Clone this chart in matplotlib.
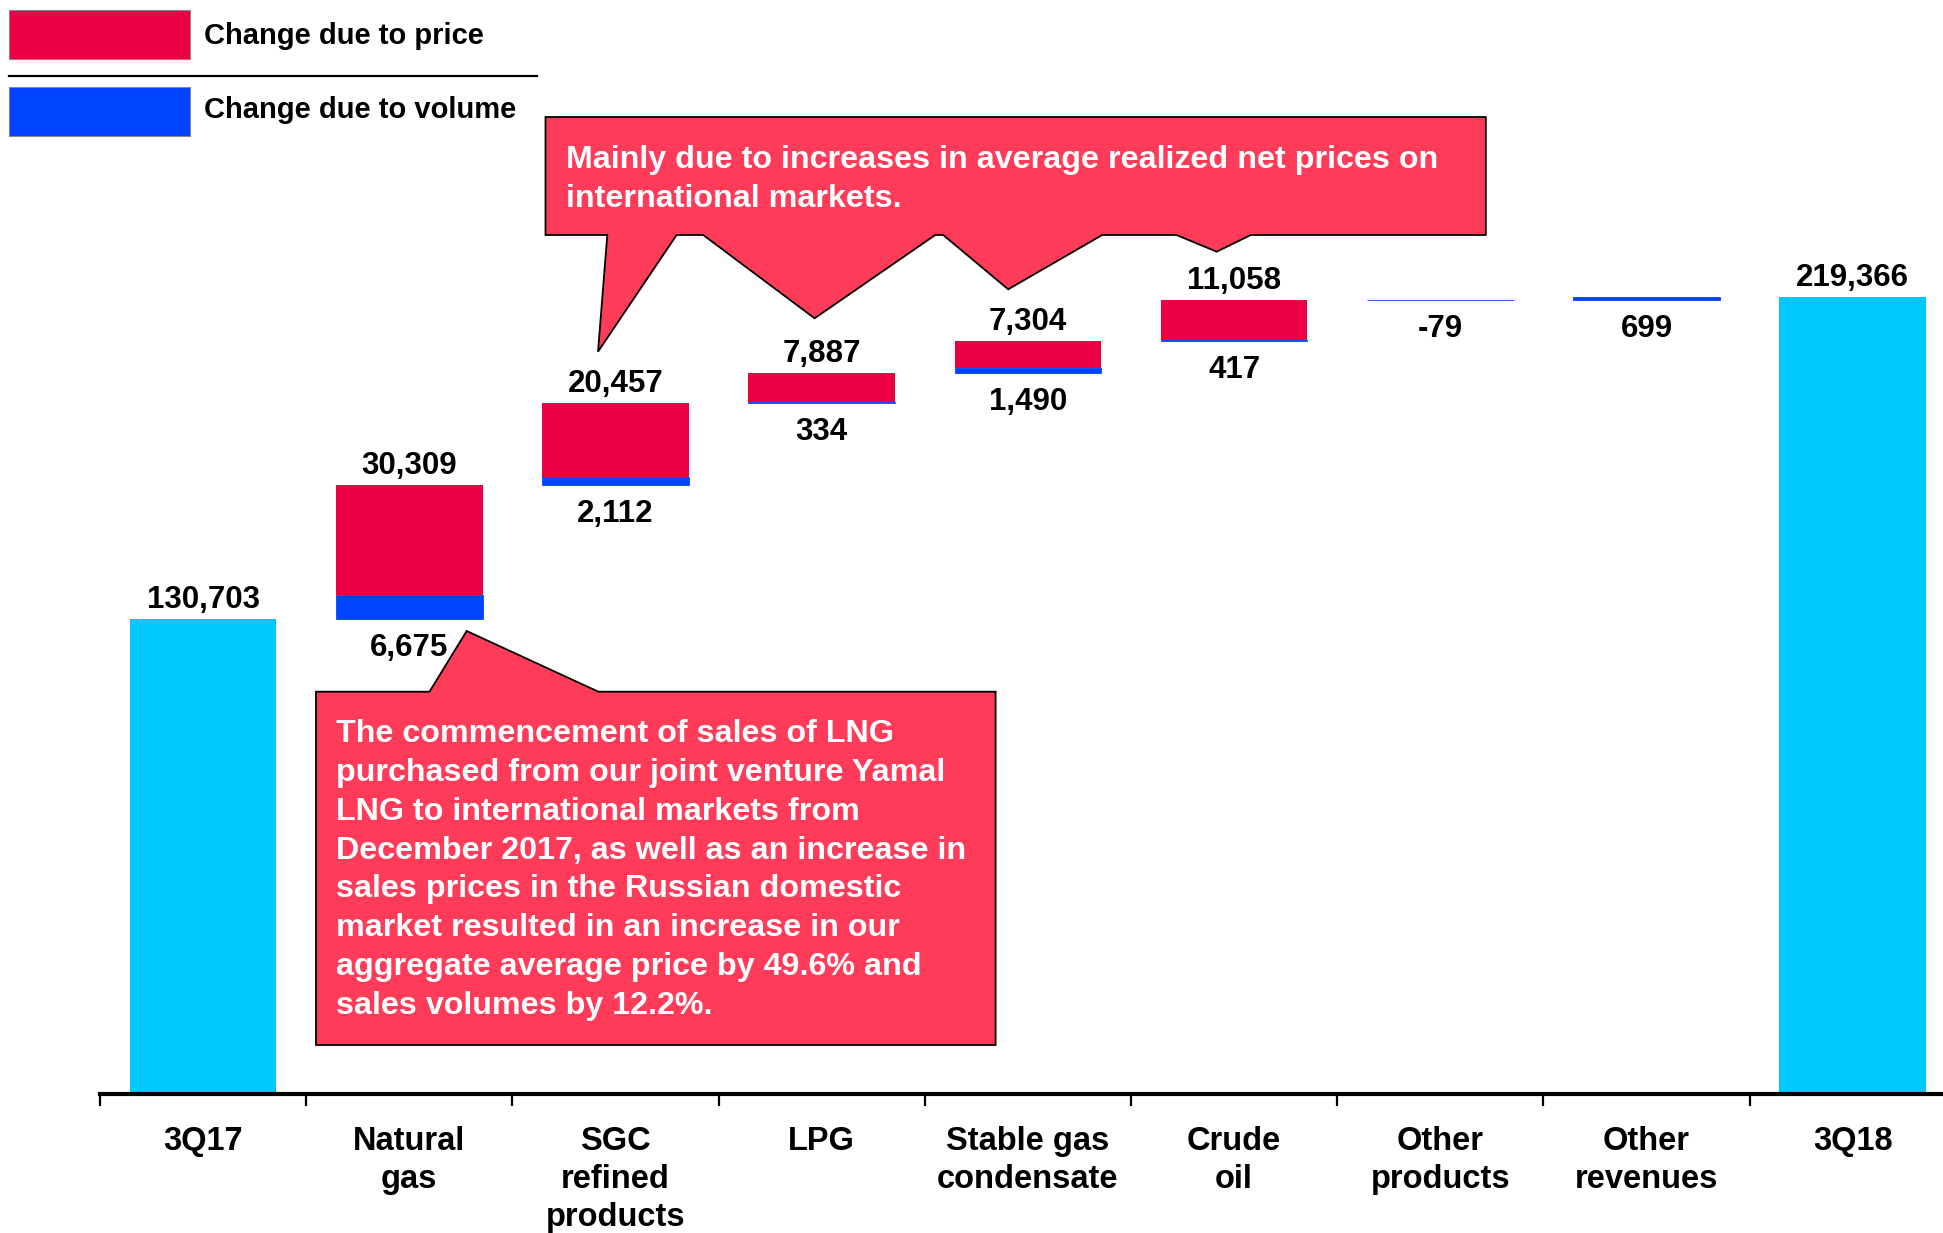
import numpy as np
import matplotlib
matplotlib.use('Agg')
import matplotlib.pyplot as plt
from matplotlib.patches import Rectangle, Polygon
from matplotlib.lines import Line2D

plt.rcParams['font.family'] = ['Liberation Sans', 'DejaVu Sans']
plt.rcParams['font.weight'] = 'bold'

# data
categories = ['3Q17', 'Natural\ngas', 'SGC\nrefined\nproducts', 'LPG',
              'Stable gas\ncondensate', 'Crude\noil', 'Other\nproducts',
              'Other\nrevenues', '3Q18']
start_total = 130703
end_total = 219366
volume_change = [6675, 2112, 334, 1490, 417, -79, 699]
price_change = [30309, 20457, 7887, 7304, 11058, 0, 0]

RED = '#EB0045'
BLUE = '#0044FF'
CYAN = '#00C8FF'
CALLOUT = '#FF3B5A'

W, H = 1943, 1233
fig = plt.figure(figsize=(W / 100, H / 100), dpi=100)

def fx(x):
    return x / W

def fy(y):
    return 1 - y / H

ax = fig.add_axes([fx(100), fy(1094), 1843 / W, 1094 / H])

bw = 0.71
val_font = dict(fontsize=22.5, fontweight='bold', ha='center', va='center')

def label_above(x, y, text):
    ax.annotate(text, (x, y), xytext=(0, 19), textcoords='offset pixels', **val_font)

def label_below(x, y, text):
    ax.annotate(text, (x, y), xytext=(0, -29), textcoords='offset pixels', **val_font)

# totals
ax.bar(0, start_total, width=bw, color=CYAN)
label_above(0, start_total, f'{start_total:,}')
ax.bar(8, end_total, width=bw, color=CYAN)
label_above(8, end_total, f'{end_total:,}')

running = start_total
for i, (vol, price) in enumerate(zip(volume_change, price_change), start=1):
    low = min(running, running + vol)
    ax.bar(i, abs(vol), bottom=low, width=bw, color=BLUE,
           edgecolor=BLUE, linewidth=0.6)
    running += vol
    if price:
        ax.bar(i, price, bottom=running, width=bw, color=RED)
        running += price
        label_above(i, running, f'{price:,}')
    label_below(i, low, f'{vol:,}')

# axis styling
for side in ['left', 'top', 'right']:
    ax.spines[side].set_visible(False)
ax.spines['bottom'].set_linewidth(3)
ax.set_yticks([])
ax.set_xticks(range(len(categories)))
ax.set_xticklabels(categories, fontsize=23.5, fontweight='bold')
for lab in ax.get_xticklabels():
    lab.set_linespacing(1.3)
ax.tick_params(axis='x', which='major', length=0, pad=23)
ax.set_xticks(np.arange(-0.5, len(categories), 1), minor=True)
ax.tick_params(axis='x', which='minor', length=8.6, width=1.6, direction='out')

# limits after ticks so set_xticks does not widen the view
ax.set_xlim(-0.5, -0.5 + 1843 / 206.2)
ax.set_ylim(0, 1094 / 0.003631)

# legend
fig.add_artist(Rectangle((fx(9), fy(59)), fx(181), 49 / H, facecolor=RED,
                         edgecolor='#888888', linewidth=0.8, transform=fig.transFigure))
fig.add_artist(Rectangle((fx(9), fy(136)), fx(181), 49 / H, facecolor=BLUE,
                         edgecolor='#888888', linewidth=0.8, transform=fig.transFigure))
fig.add_artist(Line2D([fx(9), fx(537)], [fy(76), fy(76)], color='black',
                      linewidth=1.6, transform=fig.transFigure))
fig.text(fx(204), fy(36.5), 'Change due to price', fontsize=21, fontweight='bold', va='center')
fig.text(fx(204), fy(110.5), 'Change due to volume', fontsize=21, fontweight='bold', va='center')

# top callout with its pointers
top_pts = [(545.5, 117), (1485.8, 117), (1485.8, 235),
           (1250.7, 235), (1216.7, 251.7), (1176.5, 235),
           (1102.2, 235), (1008.2, 289.3), (943.2, 235),
           (935.2, 235), (814.6, 318.3), (703.2, 235),
           (676.6, 235), (598, 351.7), (607.3, 235),
           (545.5, 235)]
fig.add_artist(Polygon([(fx(x), fy(y)) for x, y in top_pts], closed=True,
                       facecolor=CALLOUT, edgecolor='black', linewidth=1.3,
                       joinstyle='miter', transform=fig.transFigure))
fig.text(fx(566), fy(179.5),
         'Mainly due to increases in average realized net prices on\ninternational markets.',
         color='white', fontsize=23.2, fontweight='bold', va='center', ha='left',
         linespacing=1.38)

# bottom callout
bot_pts = [(316, 691.7), (429.5, 691.7), (466.7, 631), (598.4, 691.7),
           (995.6, 691.7), (995.6, 1045), (316, 1045)]
fig.add_artist(Polygon([(fx(x), fy(y)) for x, y in bot_pts], closed=True,
                       facecolor=CALLOUT, edgecolor='black', linewidth=1.3,
                       joinstyle='miter', transform=fig.transFigure))
bottom_text = ('The commencement of sales of LNG\n'
               'purchased from our joint venture Yamal\n'
               'LNG to international markets from\n'
               'December 2017, as well as an increase in\n'
               'sales prices in the Russian domestic\n'
               'market resulted in an increase in our\n'
               'aggregate average price by 49.6% and\n'
               'sales volumes by 12.2%.')
fig.text(fx(335.8), fy(870), bottom_text, color='white', fontsize=23.2,
         fontweight='bold', va='center', ha='left', linespacing=1.39)

fig.savefig('out.png', dpi=100)
